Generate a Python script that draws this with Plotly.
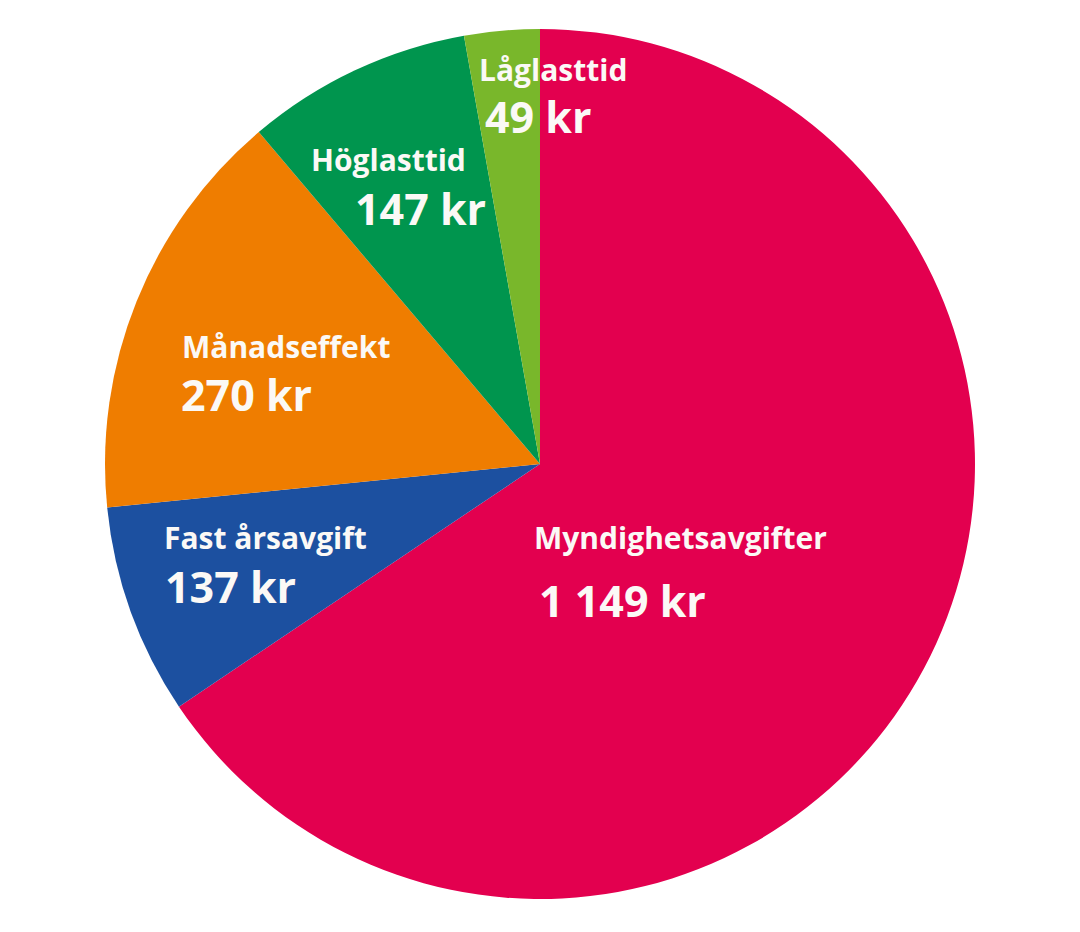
import plotly.graph_objects as go

categories = ["Myndighetsavgifter", "Fast årsavgift", "Månadseffekt", "Höglasttid", "Låglasttid"]
values = [1149, 137, 270, 147, 49]
value_labels = ["1 149 kr", "137 kr", "270 kr", "147 kr", "49 kr"]
colors = ["#E3004F", "#1C50A0", "#EF7D00", "#00954E", "#79B72B"]

W, H = 1080, 932
OFF = 8  # page body margin compensation
# label placement (pixel positions on page: left edge, vertical centre)
name_pos = [(532, 537), (162, 537), (180, 346), (309, 159), (477, 69)]
value_pos = [(537, 600), (163, 586), (179, 394), (353, 209), (483, 117)]

cx, cy, r = 540 - OFF, 464 - OFF, 435

fig = go.Figure(go.Pie(
    labels=categories,
    values=values,
    marker=dict(colors=colors, line=dict(width=0)),
    sort=False,
    direction="clockwise",
    rotation=0,
    textinfo="none",
    hoverinfo="label+value",
    showlegend=False,
    domain=dict(x=[(cx - r) / W, (cx + r) / W], y=[1 - (cy + r) / H, 1 - (cy - r) / H]),
))

txt_color = "#FBF9F6"
font_family = "Open Sans"
annotations = []
for i, cat in enumerate(categories):
    nx, ny = name_pos[i]
    vx, vy = value_pos[i]
    annotations.append(dict(
        text=f"<b>{cat}</b>", x=(nx - OFF) / W, y=1 - (ny - OFF) / H, xref="paper", yref="paper",
        xanchor="left", yanchor="middle", showarrow=False,
        font=dict(family=font_family, size=30, color=txt_color)))
    annotations.append(dict(
        text=f"<b>{value_labels[i]}</b>", x=(vx - OFF) / W, y=1 - (vy - OFF) / H, xref="paper", yref="paper",
        xanchor="left", yanchor="middle", showarrow=False,
        font=dict(family=font_family, size=43, color=txt_color)))

fig.update_layout(
    width=W, height=H,
    margin=dict(l=0, r=0, t=0, b=0),
    paper_bgcolor="white",
    plot_bgcolor="white",
    annotations=annotations,
)

fig.write_html("out.html")
